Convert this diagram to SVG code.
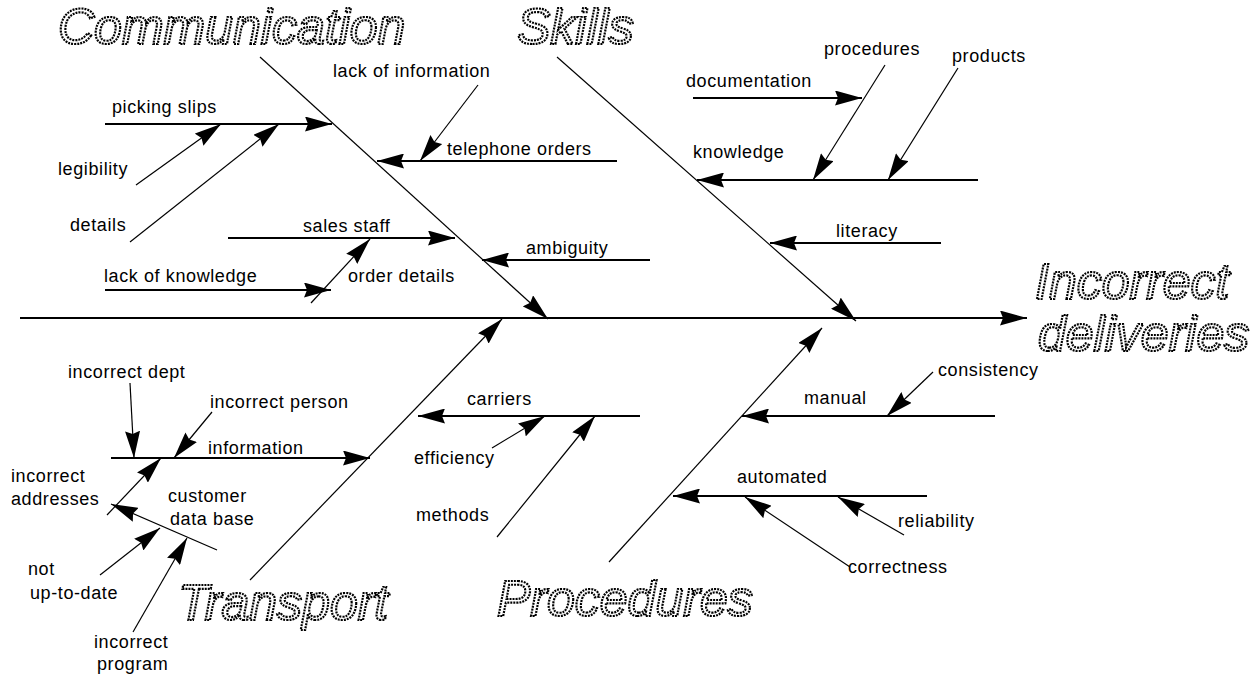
<svg xmlns="http://www.w3.org/2000/svg" width="1253" height="677" viewBox="0 0 1253 677">
<style>
.big{font-family:"Liberation Sans",Arial,sans-serif;font-style:italic;font-size:50px;fill:#fff;stroke:#000;stroke-width:2.2;stroke-dasharray:2 1;}
.lbl{font-family:"Liberation Sans",Arial,sans-serif;font-size:18px;letter-spacing:0.6px;fill:#000;}
.h{stroke:#000;stroke-width:2;fill:none;}
.d{stroke:#000;stroke-width:1.2;fill:none;}
.a{marker-end:url(#arr);}
</style>
<defs>
<marker id="arr" markerUnits="userSpaceOnUse" markerWidth="28" markerHeight="15" refX="27" refY="7.5" orient="auto" viewBox="0 0 28 15">
<path d="M0,0 L27,7.5 L0,15 L3,7.5 z" fill="#000"/>
</marker>
</defs>
<rect width="1253" height="677" fill="#fff"/>
<g id="connectors">
<line class="h a" x1="20" y1="318" x2="1027" y2="318"/>
<line class="d a" x1="260" y1="57" x2="548" y2="319"/>
<line class="d a" x1="557" y1="57" x2="856" y2="321"/>
<line class="d a" x1="250" y1="580" x2="502" y2="319"/>
<line class="d a" x1="609" y1="562" x2="822" y2="328"/>
<line class="h a" x1="105" y1="124" x2="332" y2="124"/>
<line class="h a" x1="617" y1="161" x2="377" y2="161"/>
<line class="h a" x1="228" y1="238" x2="455" y2="238"/>
<line class="h a" x1="650" y1="260" x2="482" y2="260"/>
<line class="h a" x1="105" y1="290" x2="331" y2="290"/>
<line class="h a" x1="693" y1="98" x2="862" y2="98"/>
<line class="h a" x1="978" y1="180" x2="697" y2="180"/>
<line class="h a" x1="941" y1="243" x2="770" y2="243"/>
<line class="h a" x1="111" y1="458" x2="370" y2="458"/>
<line class="h a" x1="640" y1="416" x2="418" y2="416"/>
<line class="h a" x1="995" y1="416" x2="742" y2="416"/>
<line class="h a" x1="927" y1="496" x2="673" y2="496"/>
<line class="d a" x1="136" y1="185" x2="221" y2="124"/>
<line class="d a" x1="130" y1="242" x2="279" y2="124"/>
<line class="d a" x1="478" y1="85" x2="420" y2="161"/>
<line class="d a" x1="311" y1="303" x2="370" y2="239"/>
<line class="d a" x1="885" y1="65" x2="813" y2="180"/>
<line class="d a" x1="958" y1="68" x2="888" y2="180"/>
<line class="d a" x1="130" y1="383" x2="134" y2="458"/>
<line class="d a" x1="212" y1="412" x2="174" y2="458"/>
<line class="d a" x1="107" y1="515" x2="161" y2="458"/>
<line class="d a" x1="217" y1="550" x2="111" y2="504"/>
<line class="d a" x1="100" y1="575" x2="160" y2="528"/>
<line class="d a" x1="133" y1="632" x2="187" y2="538"/>
<line class="d a" x1="492" y1="448" x2="545" y2="416"/>
<line class="d a" x1="497" y1="537" x2="595" y2="416"/>
<line class="d a" x1="933" y1="372" x2="887" y2="416"/>
<line class="d a" x1="904" y1="535" x2="838" y2="497"/>
<line class="d a" x1="850" y1="567" x2="745" y2="497"/>
</g>
<g id="communication"><text class="big" x="58" y="44">Communication</text></g>
<g id="skills"><text class="big" x="517" y="44">Skills</text></g>
<g id="transport"><text class="big" x="178" y="620">Transport</text></g>
<g id="procedures-cat"><text class="big" x="497" y="616">Procedures</text></g>
<g id="effect"><text class="big" x="1035" y="299">Incorrect</text><text class="big" x="1038" y="351">deliveries</text></g>
<g id="picking-slips"><text class="lbl" x="112" y="113">picking slips</text></g>
<g id="legibility"><text class="lbl" x="58" y="175">legibility</text></g>
<g id="details"><text class="lbl" x="70" y="231">details</text></g>
<g id="lack-of-information"><text class="lbl" x="333" y="77">lack of information</text></g>
<g id="telephone-orders"><text class="lbl" x="447" y="155">telephone orders</text></g>
<g id="sales-staff"><text class="lbl" x="303" y="232">sales staff</text></g>
<g id="ambiguity"><text class="lbl" x="526" y="254">ambiguity</text></g>
<g id="lack-of-knowledge"><text class="lbl" x="104" y="282">lack of knowledge</text></g>
<g id="order-details"><text class="lbl" x="348" y="282">order details</text></g>
<g id="procedures"><text class="lbl" x="824" y="55">procedures</text></g>
<g id="products"><text class="lbl" x="952" y="62">products</text></g>
<g id="documentation"><text class="lbl" x="686" y="87">documentation</text></g>
<g id="knowledge"><text class="lbl" x="693" y="158">knowledge</text></g>
<g id="literacy"><text class="lbl" x="836" y="237">literacy</text></g>
<g id="incorrect-dept"><text class="lbl" x="68" y="378">incorrect dept</text></g>
<g id="incorrect-person"><text class="lbl" x="210" y="408">incorrect person</text></g>
<g id="information"><text class="lbl" x="208" y="454">information</text></g>
<g id="incorrect-addresses"><text class="lbl" x="11" y="482">incorrect</text><text class="lbl" x="11" y="505">addresses</text></g>
<g id="customer-data-base"><text class="lbl" x="168" y="502">customer</text><text class="lbl" x="170" y="525">data base</text></g>
<g id="not-up-to-date"><text class="lbl" x="28" y="575">not</text><text class="lbl" x="30" y="599">up-to-date</text></g>
<g id="incorrect-program"><text class="lbl" x="94" y="648">incorrect</text><text class="lbl" x="97" y="670">program</text></g>
<g id="carriers"><text class="lbl" x="467" y="405">carriers</text></g>
<g id="efficiency"><text class="lbl" x="414" y="464">efficiency</text></g>
<g id="methods"><text class="lbl" x="416" y="521">methods</text></g>
<g id="consistency"><text class="lbl" x="938" y="376">consistency</text></g>
<g id="manual"><text class="lbl" x="804" y="404">manual</text></g>
<g id="automated"><text class="lbl" x="737" y="483">automated</text></g>
<g id="reliability"><text class="lbl" x="898" y="527">reliability</text></g>
<g id="correctness"><text class="lbl" x="848" y="573">correctness</text></g>
</svg>
